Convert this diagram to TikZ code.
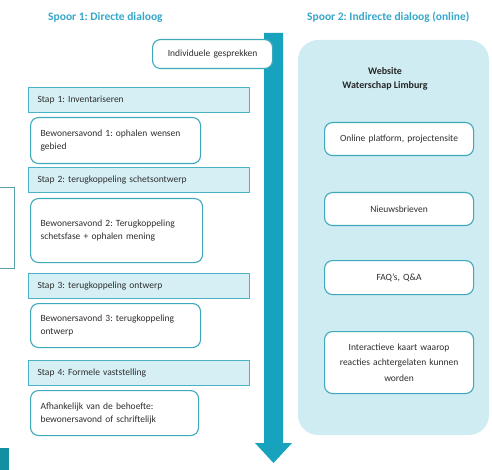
\documentclass[tikz,border=0pt]{standalone}
\usepackage{fontspec}
\setmainfont{Carlito}
\frenchspacing
\definecolor{arrowc}{HTML}{17A3BE}
\definecolor{titlec}{HTML}{36A7C9}
\definecolor{barfill}{HTML}{D5EFF4}
\definecolor{barline}{HTML}{4AB2C4}
\definecolor{boxline}{HTML}{3FA9BC}
\definecolor{panelc}{HTML}{CFECF2}
\definecolor{leftline}{HTML}{5B9EAB}
\definecolor{darkblock}{HTML}{128FA0}
\definecolor{txt}{HTML}{2E2E2E}
\tikzset{
  every node/.style={font=\fontsize{9.5}{13}\selectfont, text=txt},
  titletxt/.style={font=\fontsize{11.5}{13}\selectfont\bfseries, text=titlec, anchor=west, inner xsep=0pt},
  stapbar/.style={draw=barline, fill=barfill, line width=1.1pt, anchor=north west, align=left, inner xsep=9pt, inner ysep=0pt, minimum height=25pt, text width=203pt},
  bewbox/.style={draw=boxline, fill=white, line width=1.1pt, rounded corners=8pt, anchor=north west, align=left, inner xsep=10pt, inner ysep=0pt},
  webbox/.style={draw=boxline, fill=white, line width=1.1pt, rounded corners=8pt, anchor=north west, align=center, inner sep=0pt, minimum width=149pt, text width=140pt},
}
\begin{document}
\begin{tikzpicture}[x=1pt,y=-1pt]
\useasboundingbox (0,0) rectangle (492,470);
% titles
\node[titletxt] (t1) at (48,17) {Spoor 1: Directe dialoog};
\node[titletxt] (t2) at (307,17) {Spoor 2: Indirecte dialoog (online)};
% right panel
\fill[panelc, rounded corners=20pt] (298,40) rectangle (489,435);
\node[font=\fontsize{10}{14}\selectfont\bfseries, align=center, text=black!85] (web) at (385,79) {Website\\Waterschap Limburg};
% arrow
\fill[arrowc] (264,33) -- (283,33) -- (283,443) -- (292,443) -- (273.5,463) -- (255,443) -- (264,443) -- cycle;
% individual talks
\node[bewbox, minimum width=120pt, minimum height=29pt, text width=100pt, align=center] (ind) at (152,39) {Individuele gesprekken};
% steps
\node[stapbar] (s1) at (28,87) {Stap 1: Inventariseren};
\node[bewbox, minimum width=170pt, minimum height=46pt, text width=150pt] (b1) at (30,117) {Bewonersavond 1: ophalen wensen\\gebied};
\node[stapbar] (s2) at (28,167) {Stap 2: terugkoppeling schetsontwerp};
\node[bewbox, minimum width=172pt, minimum height=64pt, text width=152pt] (b2) at (30,198) {Bewonersavond 2: Terugkoppeling\\schetsfase + ophalen mening};
\node[stapbar] (s3) at (28,273) {Stap 3: terugkoppeling ontwerp};
\node[bewbox, minimum width=170pt, minimum height=44pt, text width=150pt] (b3) at (30,303) {Bewonersavond 3: terugkoppeling\\ontwerp};
\node[stapbar] (s4) at (28,360) {Stap 4: Formele vaststelling};
\node[bewbox, minimum width=168pt, minimum height=45pt, text width=148pt] (b4) at (30,390) {Afhankelijk van de behoefte:\\bewonersavond of schriftelijk};
% web boxes
\node[webbox, minimum height=33pt] (w1) at (324,122) {Online platform, projectensite};
\node[webbox, minimum height=33pt] (w2) at (324,192) {Nieuwsbrieven};
\node[webbox, minimum height=34pt] (w3) at (324,260) {FAQ's, Q\&A};
\node[webbox, minimum height=62pt, font=\fontsize{9.5}{15.5}\selectfont] (w4) at (324,331) {Interactieve kaart waarop\\reacties achtergelaten kunnen\\worden};
% left partial box and block
\draw[leftline, line width=0.9pt] (-1,187) -- (14.5,187) -- (14.5,268) -- (-1,268);
\fill[darkblock] (0,448) rectangle (9,470);
\end{tikzpicture}
\end{document}
